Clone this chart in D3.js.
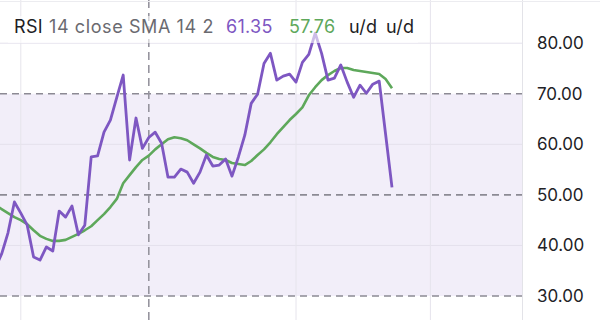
<!DOCTYPE html>
<html>
<head>
<meta charset="utf-8">
<script src="https://cdn.jsdelivr.net/npm/d3@7"></script>
<style>
  html, body { margin: 0; padding: 0; background: #ffffff; }
  svg { display: block; }
  text { font-family: Inter, "Noto Sans", Roboto, sans-serif; }
</style>
</head>
<body>
<svg id="chart" width="600" height="320"></svg>
<script>
// ---- data ----
const rsiValues = [
  35.5, 38.3, 42.5, 48.6, 46.4, 44.0, 37.7, 37.1, 39.7, 38.9,
  46.8, 45.6, 47.8, 42.1, 44.0, 57.5, 57.7, 62.4, 64.8, 69.3,
  73.7, 56.9, 65.2, 59.2, 61.35, 62.4, 60.2, 53.5, 53.5, 55.1,
  54.5, 52.3, 54.5, 57.9, 55.7, 55.9, 57.1, 53.7, 57.5, 61.8,
  68.1, 69.9, 76.0, 78.0, 72.7, 73.5, 73.9, 72.3, 76.2, 77.8,
  82.0, 78.0, 72.7, 73.1, 75.7, 72.3, 69.3, 71.7, 70.1, 71.9,
  72.5, 62.0, 51.5
];
const smaValues = [
  48.0, 47.2, 46.4, 45.6, 45.0, 44.2, 43.0, 41.9, 41.3, 40.9,
  40.9, 41.1, 41.7, 42.3, 43.0, 43.8, 45.0, 46.2, 47.6, 49.2,
  52.3, 53.9, 55.5, 56.9, 57.76, 59.0, 60.0, 61.0, 61.4, 61.2,
  60.8, 60.0, 59.2, 58.3, 57.5, 57.1, 56.9, 56.3, 56.1, 55.9,
  56.7, 57.9, 59.0, 60.4, 62.0, 63.4, 64.8, 66.0, 67.3, 69.7,
  71.3, 72.7, 73.7, 74.5, 75.1, 75.1, 74.7, 74.5, 74.3, 74.1,
  73.9, 72.9, 71.1
];
const yTicks = [80, 70, 60, 50, 40, 30];
const yTickLabels = ["80.00", "70.00", "60.00", "50.00", "40.00", "30.00"];
const bandLevels = [70, 50, 30];        // dashed levels
const gridLevels = [80, 60, 40];        // faint gridlines
const timeGridIndex = [4, 47, 68];      // faint vertical gridlines (bar index)
const crosshairIndex = 24;
const legendParts = [
  { text: "RSI", color: "#1e1e24" },
  { text: "14 close SMA 14 2", color: "#6a6a70" },
  { text: "61.35", color: "#7E57C2" },
  { text: "57.76", color: "#5ea85b" },
  { text: "u/d", color: "#1e1e24" },
  { text: "u/d", color: "#1e1e24" }
];

// ---- layout ----
const W = 600, H = 320;
const plotRight = 522;
const svg = d3.select("#chart");

const x = d3.scaleLinear().domain([0, 62]).range([-4.8, 392]);
const y = d3.scaleLinear().domain([30, 80]).range([296, 43.2]);

svg.append("defs").append("clipPath").attr("id", "plotclip")
  .append("rect").attr("x", 0).attr("y", 0).attr("width", plotRight).attr("height", H);

const plot = svg.append("g").attr("clip-path", "url(#plotclip)");

// band fill
plot.append("rect")
  .attr("x", 0).attr("width", plotRight)
  .attr("y", y(70)).attr("height", y(30) - y(70))
  .attr("fill", "#7E57C2").attr("fill-opacity", 0.1);

// faint horizontal gridlines
plot.selectAll(".hgrid").data(gridLevels).enter().append("line")
  .attr("x1", 0).attr("x2", plotRight)
  .attr("y1", d => y(d)).attr("y2", d => y(d))
  .attr("stroke", "#e4e1ec").attr("stroke-width", 1);

// faint vertical gridlines
plot.selectAll(".vgrid").data(timeGridIndex).enter().append("line")
  .attr("x1", d => x(d)).attr("x2", d => x(d))
  .attr("y1", 0).attr("y2", H)
  .attr("stroke", "#e6e4ec").attr("stroke-width", 1);

// dashed levels
plot.selectAll(".level").data(bandLevels).enter().append("line")
  .attr("x1", 0).attr("x2", plotRight)
  .attr("y1", d => y(d)).attr("y2", d => y(d))
  .attr("stroke", "#8c8a94").attr("stroke-width", 1.6)
  .attr("stroke-dasharray", "7,5");

// crosshair
plot.append("line")
  .attr("x1", x(crosshairIndex)).attr("x2", x(crosshairIndex))
  .attr("y1", 0).attr("y2", H)
  .attr("stroke", "#96949e").attr("stroke-width", 1.6)
  .attr("stroke-dasharray", "8,5");

// lines
const line = d3.line().x((d, i) => x(i)).y(d => y(d));
plot.append("path").datum(smaValues)
  .attr("d", line).attr("fill", "none")
  .attr("stroke", "#5ea85b").attr("stroke-width", 2.6)
  .attr("stroke-linejoin", "round");
plot.append("path").datum(rsiValues)
  .attr("d", line).attr("fill", "none")
  .attr("stroke", "#7E57C2").attr("stroke-width", 2.8)
  .attr("stroke-linejoin", "round");

// right and top borders
svg.append("line").attr("x1", plotRight + 0.5).attr("x2", plotRight + 0.5)
  .attr("y1", 0).attr("y2", H).attr("stroke", "#e3e3e8").attr("stroke-width", 1);
svg.append("line").attr("x1", 0).attr("x2", W)
  .attr("y1", 1.5).attr("y2", 1.5).attr("stroke", "#ececf0").attr("stroke-width", 1);

// legend backdrop
svg.append("rect").attr("x", 8).attr("y", 16).attr("width", 410).attr("height", 27)
  .attr("fill", "#ffffff").attr("fill-opacity", 0.6);

// legend text
const legendX = [14, 49, 226, 289, 349, 386];
const legendSpacing = [0.3, 0.6, 0.3, 0.3, 0.3, 0.3];
svg.selectAll(".legend").data(legendParts).enter().append("text")
  .attr("x", (d, i) => legendX[i]).attr("y", 33)
  .attr("font-size", 18)
  .attr("letter-spacing", (d, i) => legendSpacing[i])
  .attr("fill", d => d.color)
  .text(d => d.text);

// y-axis labels
const yAxis = d3.axisRight(y).tickValues(yTicks)
  .tickFormat((d, i) => yTickLabels[i]).tickSize(0).tickPadding(0);
const ax = svg.append("g").attr("transform", `translate(537,0)`).call(yAxis);
ax.select(".domain").remove();
ax.selectAll("text").attr("font-size", 17).attr("fill", "#222226")
  .attr("font-family", "Inter, 'Noto Sans', sans-serif");
</script>
</body>
</html>
